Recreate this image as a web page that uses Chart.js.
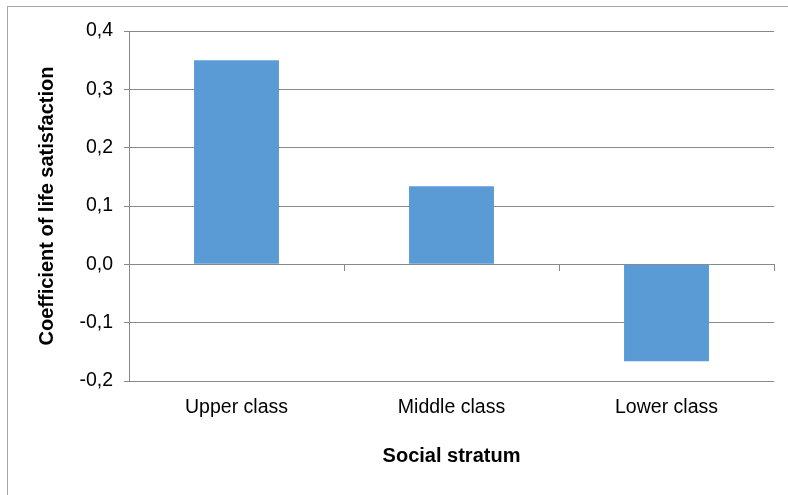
<!DOCTYPE html>
<html>
<head>
<meta charset="utf-8">
<script src="https://cdn.jsdelivr.net/npm/chart.js@4"></script>
<style>
    html, body { margin: 0; padding: 0; background: #fff; overflow: hidden; }
    #frame { position: absolute; left: 7px; top: 6px; width: 800px; height: 520px; border: 1px solid #a6a6a6; }
    #wrap { position: absolute; left: 0; top: 0; width: 788px; height: 495px; }
</style>
</head>
<body>
<div id="frame"></div>
<div id="wrap"><canvas id="stratumChart"></canvas></div>
<script>
const categories = ["Upper class", "Middle class", "Lower class"];
const satisfaction = [0.35, 0.134, -0.166];
const yTicks = [-0.2, -0.1, 0.0, 0.1, 0.2, 0.3, 0.4];

const GRID = "#898989";
const BAR = "#5b9bd5";
const FONT = "'Liberation Sans', Arial, sans-serif";

const ctx = document.getElementById("stratumChart");

new Chart(ctx, {
    type: "bar",

    data: {
        labels: categories,

        datasets: [
            {
                label: "Coefficient of life satisfaction",
                data: satisfaction,
                backgroundColor: BAR,
                categoryPercentage: 1,
                barPercentage: 0.395,
                xAxisID: "x",
            },
        ],
    },

    options: {
        responsive: true,
        maintainAspectRatio: false,
        animation: false,
        layout: {
            padding: { left: 31, right: 14, top: 31, bottom: 23 },
        },

        plugins: {
            legend: { display: false },
            tooltip: { enabled: false },
        },

        scales: {
            x: {
                position: "bottom",
                grid: { display: false, drawTicks: false },
                border: { display: false },
                ticks: {
                    color: "#000",
                    padding: 15,
                    maxRotation: 0,
                    font: { family: FONT, size: 19.5 },
                },
                title: {
                    display: true,
                    text: "Social stratum",
                    color: "#000",
                    font: { family: FONT, size: 20, weight: "bold" },
                },
                afterFit: (s) => { s.height = 91; },
            },

            // axis line crossing at zero, with the category tick marks
            x2: {
                type: "category",
                position: { y: 0 },
                offset: true,
                grid: {
                    offset: true,
                    drawOnChartArea: false,
                    drawTicks: true,
                    tickLength: 6,
                    color: GRID,
                },
                border: { display: true, color: GRID, width: 1 },
                ticks: { display: false },
            },

            y: {
                min: -0.2,
                max: 0.4,
                afterBuildTicks: (s) => {
                    s.ticks = yTicks.map((v) => ({ value: v }));
                },
                grid: {
                    color: GRID,
                    tickLength: 5,
                },
                border: { display: true, color: GRID },
                ticks: {
                    color: "#000",
                    padding: 11,
                    font: { family: FONT, size: 19.5 },
                    callback: (v) => v.toFixed(1).replace(".", ","),
                },
                title: {
                    display: true,
                    text: "Coefficient of life satisfaction",
                    color: "#000",
                    font: { family: FONT, size: 20, weight: "bold" },
                },
                afterFit: (s) => { s.width = 98; },
            },
        },
    },
});
</script>
</body>
</html>
